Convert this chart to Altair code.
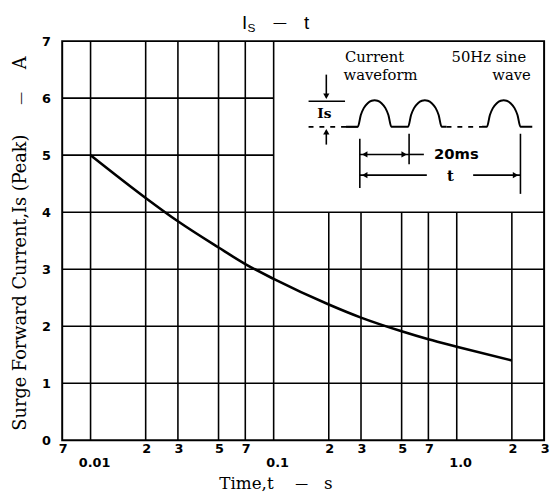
import altair as alt
import pandas as pd

# ---------------- data ----------------
times = [0.01, 0.02, 0.03, 0.05, 0.07, 0.1, 0.2, 0.3, 0.5, 0.7, 1.0, 2.0]
currents = [5.0, 4.25, 3.84, 3.38, 3.09, 2.83, 2.38, 2.15, 1.91, 1.77, 1.64, 1.40]

x_domain = [0.007, 3]
y_domain = [0, 7]
y_ticks = [0, 1, 2, 3, 4, 5, 6, 7]

minor_tick_vals = [0.007, 0.02, 0.03, 0.05, 0.07, 0.2, 0.3, 0.5, 0.7, 2, 3]
minor_tick_labels = ["7", "2", "3", "5", "7", "2", "3", "5", "7", "2", "3"]
decade_vals = [0.01, 0.1, 1.0]
decade_labels = ["0.01", "0.1", "1.0"]

vgrid_full = [0.01, 0.02, 0.03, 0.05, 0.07, 0.1]   # run 0 -> 7
vgrid_part = [0.2, 0.3, 0.5, 0.7, 1.0, 2.0]        # run 0 -> 4
hgrid_full = [1, 2, 3, 4]                          # run 0.007 -> 3
hgrid_part = [5, 6]                                # run 0.007 -> 0.1

# inset drawing (diagram units)
hump_dx = [0, 3, 6, 10, 14, 17, 20, 24, 28, 31, 34]
hump_h = [0, 12, 19, 24, 26.5, 27, 26.5, 24, 19, 12, 0]
hump_starts = [50, 101, 181]
wave_base = 80
seg_x1 = [0, 38, 18, 18, 52, 102, 215, 52, 102, 52, 167]
seg_y1 = [54, 80, 27, 84, 92, 87, 87, 108, 108, 129, 129]
seg_x2 = [37, 50, 18, 18, 52, 102, 215, 102, 117, 120, 215]
seg_y2 = [54, 80, 50, 98, 142, 118, 148, 108, 108, 129, 129]
dash_x1 = [0, 140]
dash_x2 = [38, 176]
arrow_x = [18, 18, 57, 97, 57, 210]
arrow_y = [49, 85, 108, 108, 129, 129]
arrow_shape = ["triangle-down", "triangle-up", "triangle-left", "triangle-right",
               "triangle-left", "triangle-right"]
serif_txt = ["Current", "waveform", "50Hz sine", "wave"]
serif_x = [67, 73, 183, 206]
serif_y = [9, 27, 9, 27]

W, H = 489, 405

# ---------------- main chart ----------------
xs = alt.Scale(type="log", domain=x_domain, nice=False)
ys = alt.Scale(domain=y_domain, nice=False, zero=True)
yaxis = alt.Axis(values=y_ticks, title=None, labelFont="DejaVu Sans", labelFontWeight="bold",
                 labelFontSize=13, labelPadding=12, ticks=False, domain=False, grid=False,
                 labelColor="black")

vgrid_df = pd.DataFrame({
    "x": vgrid_full + vgrid_part,
    "y0": [0] * (len(vgrid_full) + len(vgrid_part)),
    "y1": [7] * len(vgrid_full) + [4] * len(vgrid_part),
})
hgrid_df = pd.DataFrame({
    "y": hgrid_full + hgrid_part,
    "x0": [0.007] * (len(hgrid_full) + len(hgrid_part)),
    "x1": [3] * len(hgrid_full) + [0.1] * len(hgrid_part),
})
curve_df = pd.DataFrame({"t": times, "I": currents})
minor_df = pd.DataFrame({"v": minor_tick_vals, "lab": minor_tick_labels})
decade_df = pd.DataFrame({"v": decade_vals, "lab": decade_labels})

vrule = alt.Chart(vgrid_df).mark_rule(color="black", strokeWidth=1.6).encode(
    x=alt.X("x:Q", scale=xs, axis=None),
    y=alt.Y("y0:Q", scale=ys, axis=yaxis),
    y2="y1:Q",
)
hrule = alt.Chart(hgrid_df).mark_rule(color="black", strokeWidth=1.6).encode(
    y=alt.Y("y:Q", scale=ys, axis=yaxis),
    x=alt.X("x0:Q", scale=xs, axis=None),
    x2="x1:Q",
)
curve = alt.Chart(curve_df).mark_line(color="black", strokeWidth=2.6, interpolate="monotone").encode(
    x=alt.X("t:Q", scale=xs, axis=None),
    y=alt.Y("I:Q", scale=ys, axis=yaxis),
)
minor_txt = alt.Chart(minor_df).mark_text(font="DejaVu Sans", fontWeight="bold", fontSize=13,
                                          baseline="middle", dx=1, color="black").encode(
    x=alt.X("v:Q", scale=xs, axis=None), y=alt.value(414), text="lab:N")
decade_txt = alt.Chart(decade_df).mark_text(font="DejaVu Sans", fontWeight="bold", fontSize=13,
                                            baseline="middle", dx=4, color="black").encode(
    x=alt.X("v:Q", scale=xs, axis=None), y=alt.value(428), text="lab:N")

one = pd.DataFrame({"a": [0]})


def txt(s, x, y, **kw):
    base = dict(font="DejaVu Serif", fontSize=17, color="black", baseline="middle", align="center")
    base.update(kw)
    return alt.Chart(one).mark_text(text=s, **base).encode(x=alt.value(x), y=alt.value(y))


titles = [
    txt("I", 185, -18, font="Liberation Sans", fontSize=19),
    txt("S", 192, -13, font="Liberation Sans", fontSize=12),
    txt("\u2014", 221, -18, font="Liberation Sans", fontSize=13),
    txt("t", 248, -18, font="Liberation Sans", fontSize=19),
    txt("Time,t", 187, 449),
    txt("\u2014", 243, 449, fontSize=13),
    txt("s", 270, 449),
    txt("Surge Forward Current,Is (Peak)", -42, 245, angle=270, fontSize=18),
    txt("\u2014", -42, 58, angle=270, fontSize=13),
    txt("A", -42, 22, angle=270, fontSize=18),
]

main = alt.layer(vrule, hrule, curve, minor_txt, decade_txt, *titles)

# ---------------- inset ----------------
ixs = alt.Scale(domain=[0, 240], range=[250, 490], nice=False, zero=False)
iys = alt.Scale(domain=[0, 160], range=[7, 167], nice=False, zero=False)

wx, wy, wg = [], [], []


def add(g, x, y):
    wx.append(x)
    wy.append(y)
    wg.append(g)


add("a", 38, wave_base)
for i, s in enumerate(hump_starts):
    g = "a" if i < 2 else "c"
    if i == 2:
        add(g, 176, wave_base)
    for dx, h in zip(hump_dx, hump_h):
        add(g, s + dx, wave_base - h)
    if i == 0:
        add(g, 101, wave_base)
    elif i == 1:
        add(g, 140, wave_base)
    else:
        add(g, 227, wave_base)
wave_df = pd.DataFrame({"ux": wx, "uy": wy, "g": wg, "i": range(len(wx))})

wave = alt.Chart(wave_df).mark_line(color="black", strokeWidth=2, interpolate="monotone").encode(
    x=alt.X("ux:Q", scale=ixs, axis=None),
    y=alt.Y("uy:Q", scale=iys, axis=None),
    detail="g:N", order="i:Q",
)
seg_df = pd.DataFrame({"x1": seg_x1, "y1": seg_y1, "x2": seg_x2, "y2": seg_y2})
segs = alt.Chart(seg_df).mark_rule(color="black", strokeWidth=1.6).encode(
    x=alt.X("x1:Q", scale=ixs, axis=None), y=alt.Y("y1:Q", scale=iys, axis=None),
    x2="x2:Q", y2="y2:Q",
)
dash_df = pd.DataFrame({"x1": dash_x1, "x2": dash_x2, "y": [wave_base] * len(dash_x1)})
dashes = alt.Chart(dash_df).mark_rule(color="black", strokeWidth=1.6, strokeDash=[5, 6]).encode(
    x=alt.X("x1:Q", scale=ixs, axis=None), x2="x2:Q",
    y=alt.Y("y:Q", scale=iys, axis=None),
)
arrow_df = pd.DataFrame({"x": arrow_x, "y": arrow_y, "s": arrow_shape})
arrows = alt.Chart(arrow_df).mark_point(filled=True, color="black", opacity=1, size=40).encode(
    x=alt.X("x:Q", scale=ixs, axis=None), y=alt.Y("y:Q", scale=iys, axis=None),
    shape=alt.Shape("s:N", scale=None),
)
serif_df = pd.DataFrame({"x": serif_x, "y": serif_y, "t": serif_txt})
itext = alt.Chart(serif_df).mark_text(font="DejaVu Serif", fontSize=15, color="black").encode(
    x=alt.X("x:Q", scale=ixs, axis=None), y=alt.Y("y:Q", scale=iys, axis=None), text="t:N",
)
lab_df = pd.DataFrame({"x": [16, 150, 144], "y": [67, 108, 130], "t": ["Is", "20ms", "t"]})
ilab_is = alt.Chart(lab_df.iloc[[0]]).mark_text(font="DejaVu Serif", fontWeight="bold", fontSize=14,
                                                color="black").encode(
    x=alt.X("x:Q", scale=ixs, axis=None), y=alt.Y("y:Q", scale=iys, axis=None), text="t:N")
ilab_ms = alt.Chart(lab_df.iloc[[1]]).mark_text(font="DejaVu Sans", fontWeight="bold", fontSize=15,
                                                color="black").encode(
    x=alt.X("x:Q", scale=ixs, axis=None), y=alt.Y("y:Q", scale=iys, axis=None), text="t:N")
ilab_t = alt.Chart(lab_df.iloc[[2]]).mark_text(font="DejaVu Serif", fontWeight="bold", fontSize=15,
                                               color="black").encode(
    x=alt.X("x:Q", scale=ixs, axis=None), y=alt.Y("y:Q", scale=iys, axis=None), text="t:N")

inset = alt.layer(wave, segs, dashes, arrows, itext, ilab_is, ilab_ms, ilab_t)

chart = alt.layer(main, inset).resolve_scale(x="independent", y="independent").properties(
    width=W, height=H,
    padding={"left": 55, "top": 30, "right": 7, "bottom": 55},
    autosize="none",
    background="white",
).configure_view(stroke="black", strokeWidth=2)

chart.save("out.html", embed_options={"renderer": "svg", "actions": False})
